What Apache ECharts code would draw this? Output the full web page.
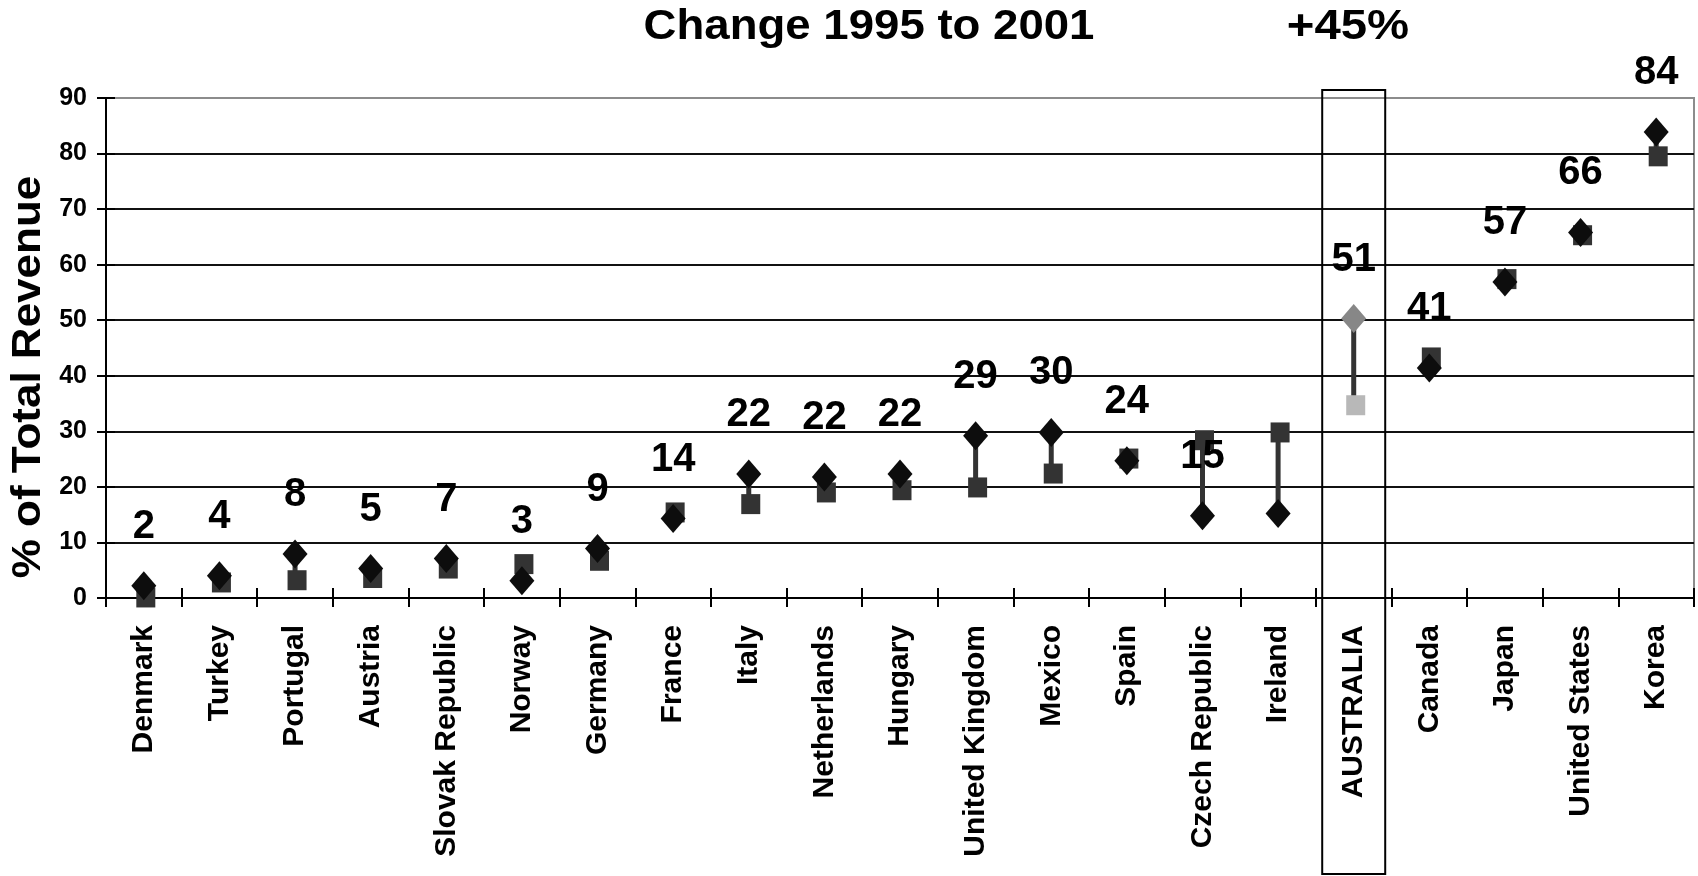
<!DOCTYPE html>
<html>
<head>
<meta charset="utf-8">
<script src="https://cdn.jsdelivr.net/npm/echarts@6/dist/echarts.min.js"></script>
<style>
  html, body { margin: 0; padding: 0; background: #fff; }
  #main { width: 1698px; height: 876px; }
</style>
</head>
<body>
<div id="main"></div>
<script>
// ---------- data ----------
const categories = ['Denmark', 'Turkey', 'Portugal', 'Austria', 'Slovak Republic', 'Norway', 'Germany',
  'France', 'Italy', 'Netherlands', 'Hungary', 'United Kingdom', 'Mexico', 'Spain', 'Czech Republic',
  'Ireland', 'AUSTRALIA', 'Canada', 'Japan', 'United States', 'Korea'];
const value2001 = [2.2, 4.0, 7.9, 5.3, 7.1, 3.1, 8.9, 14.3, 22.3, 21.8, 22.3, 29.2, 29.8, 24.7, 14.8, 15.2, 50.3, 41.4, 56.9, 65.8, 83.9];
const value1995 = [0.1, 2.8, 3.2, 3.6, 5.3, 6.1, 6.7, 15.4, 16.9, 19.0, 19.4, 19.9, 22.4, 25.1, 28.4, 29.8, 34.7, 43.3, 57.4, 65.3, 79.5];
const labelTexts = ['2', '4', '8', '5', '7', '3', '9', '14', '22', '22', '22', '29', '30', '24', '15', '', '51', '41', '57', '66', '84'];
const yMin = 0, yMax = 90, yStep = 10;
const titleText = 'Change 1995 to 2001';
const changeText = '+45%';
const yAxisTitle = '% of Total Revenue';
const highlight = 'AUSTRALIA';

// ---------- styles ----------
const FONT = '"Liberation Sans", Arial, Helvetica, sans-serif';
const grid = { left: 106, right: 4, top: 98, bottom: 278 };

const chart = echarts.init(document.getElementById('main'));

const hiIdx = categories.indexOf(highlight);

const option = {
  animation: false,
  backgroundColor: '#fff',
  grid: { left: grid.left, right: grid.right, top: grid.top, bottom: grid.bottom, show: true,
          borderColor: '#8c8c8c', borderWidth: 2, backgroundColor: 'transparent' },
  xAxis: [
    {
      type: 'category', data: categories, position: 'bottom',
      axisLine: { show: true, lineStyle: { color: '#000', width: 2 } },
      axisTick: { show: true, inside: false, length: 9, interval: 0, lineStyle: { color: '#000', width: 2 } },
      axisLabel: { show: true, interval: 0, rotate: 90, margin: 27, fontSize: 30, fontWeight: 'bold',
                   fontFamily: FONT, color: '#000' },
      splitLine: { show: false }
    },
    {
      type: 'category', data: categories, position: 'bottom',
      axisLine: { show: false },
      axisTick: { show: true, inside: true, length: 10, interval: 0, lineStyle: { color: '#000', width: 2 } },
      axisLabel: { show: false },
      splitLine: { show: false }
    }
  ],
  yAxis: [
    {
      type: 'value', min: yMin, max: yMax, interval: yStep, position: 'left',
      axisLine: { show: true, lineStyle: { color: '#000', width: 2 } },
      axisTick: { show: true, inside: false, length: 9, lineStyle: { color: '#000', width: 2 } },
      axisLabel: { show: true, margin: 19, fontSize: 25, fontWeight: 'bold', fontFamily: FONT, color: '#000' },
      splitLine: { show: true, lineStyle: { color: ['#111', '#111', '#111', '#111', '#111', '#111', '#111', '#111', '#111', '#8c8c8c'], width: 2 } }
    },
    {
      type: 'value', min: yMin, max: yMax, interval: yStep, position: 'left',
      axisLine: { show: false },
      axisTick: { show: true, inside: true, length: 9, lineStyle: { color: '#000', width: 2 } },
      axisLabel: { show: false },
      splitLine: { show: false }
    }
  ],
  series: [
    {
      type: 'custom',
      name: 'change',
      xAxisIndex: 0, yAxisIndex: 0,
      z: 1,
      silent: true,
      data: categories.map((c, i) => [i, value2001[i], value1995[i]]),
      encode: { x: 0, y: [1, 2] },
      renderItem: function (params, api) {
        const a = api.coord([api.value(0), api.value(1)]);
        const b = api.coord([api.value(0), api.value(2)]);
        return {
          type: 'line',
          shape: { x1: a[0], y1: a[1], x2: b[0], y2: b[1] },
          style: { stroke: '#333', lineWidth: 5 }
        };
      }
    },
    {
      type: 'scatter',
      name: '1995',
      xAxisIndex: 0, yAxisIndex: 0,
      z: 2,
      clip: false,
      symbol: 'rect',
      symbolSize: [19, 20],
      symbolOffset: [2, 0],
      itemStyle: { color: '#333333', opacity: 1 },
      data: value1995.map((v, i) => i === hiIdx ? { value: v, itemStyle: { color: '#b8b8b8', opacity: 1 } } : v)
    },
    {
      type: 'scatter',
      name: '2001',
      xAxisIndex: 0, yAxisIndex: 0,
      z: 3,
      clip: false,
      symbol: 'diamond',
      symbolSize: [25, 29],
      itemStyle: { color: '#0d0d0d', opacity: 1 },
      label: {
        show: true, position: 'inside', offset: [0, -59],
        formatter: p => labelTexts[p.dataIndex],
        fontSize: 40, fontWeight: 'bold', fontFamily: FONT, color: '#000', opacity: 1
      },
      data: value2001.map((v, i) => i === hiIdx ? { value: v, itemStyle: { color: '#878787', opacity: 1 } } : v)
    }
  ]
};

chart.setOption(option);

// graphics: titles, axis title, highlight box
const cx = chart.convertToPixel({ xAxisIndex: 0 }, hiIdx);
const H = chart.getHeight();
chart.setOption({
  graphic: [
    {
      type: 'text', x: 869, y: 27, scaleX: 1.06, z: 10,
      style: { text: titleText, fontSize: 43, fontWeight: 'bold', fontFamily: FONT,
               align: 'center', verticalAlign: 'middle', fill: '#000' }
    },
    {
      type: 'text', x: 1348, y: 27, scaleX: 1.1, z: 10,
      style: { text: changeText, fontSize: 43, fontWeight: 'bold', fontFamily: FONT,
               align: 'center', verticalAlign: 'middle', fill: '#000' }
    },
    {
      type: 'text', x: 29, y: 377, rotation: Math.PI / 2, scaleX: 1.1, z: 10,
      style: { text: yAxisTitle, fontSize: 40, fontWeight: 'bold', fontFamily: FONT,
               align: 'center', verticalAlign: 'middle', fill: '#000' }
    },
    {
      type: 'rect', z: 10, silent: true,
      shape: { x: cx - 31.5, y: grid.top - 8, width: 63, height: H - 2 - (grid.top - 8) },
      style: { fill: 'none', stroke: '#000', lineWidth: 2 }
    }
  ]
});
</script>
</body>
</html>
